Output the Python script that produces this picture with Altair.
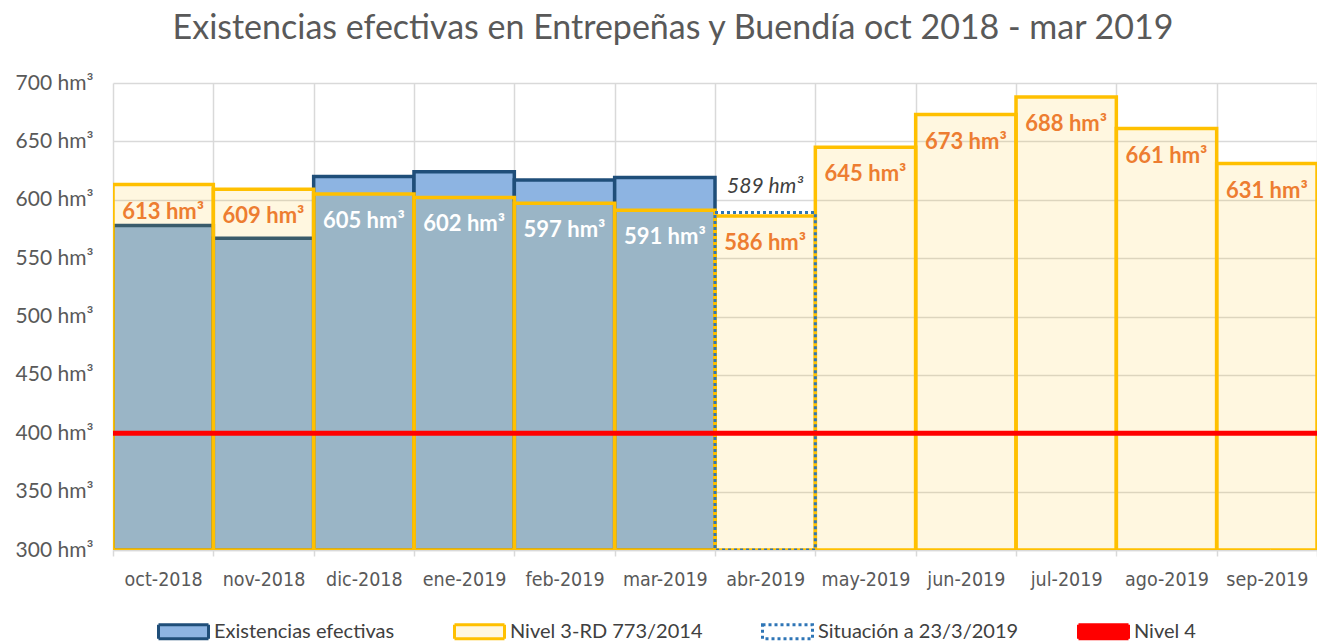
import altair as alt
import pandas as pd

# ---- data ----
meses = ["oct-2018", "nov-2018", "dic-2018", "ene-2019", "feb-2019", "mar-2019",
         "abr-2019", "may-2019", "jun-2019", "jul-2019", "ago-2019", "sep-2019"]
existencias_meses = ["oct-2018", "nov-2018", "dic-2018", "ene-2019", "feb-2019", "mar-2019"]
existencias = [578, 567, 620, 624, 617, 619]
nivel3 = [613, 609, 605, 602, 597, 591, 586, 645, 673, 688, 661, 631]
situacion_meses = ["abr-2019"]
situacion = [589]
nivel4 = [400]
y_ticks = [300, 350, 400, 450, 500, 550, 600, 650, 700]
series = ["Existencias efectivas", "Nivel 3-RD 773/2014", "Situación a 23/3/2019", "Nivel 4"]

exist_map = dict(zip(existencias_meses, existencias))
df_exist = pd.DataFrame({"mes": existencias_meses, "valor": existencias, "serie": series[0]})
df_n3 = pd.DataFrame({"mes": meses, "valor": nivel3, "serie": series[1]})
df_n3["dentro"] = [bool(exist_map.get(m, 0) > v) for m, v in zip(meses, nivel3)]
df_sit = pd.DataFrame({"mes": situacion_meses, "valor": situacion, "serie": series[2]})
df_n4 = pd.DataFrame({"valor": nivel4, "serie": series[3]})

fill_range = ["#8db4e2", "rgba(255,192,0,0.12)", "rgba(255,255,255,0)", "#ff0000"]
stroke_range = ["#1f4e79", "#ffc000", "#2e75b6", "#ff0000"]
dash_range = [[1, 0], [1, 0], [3, 3], [1, 0]]

FONT = "Lato"
NARROW = "'DejaVu Sans Condensed', 'Liberation Sans', sans-serif"

x_enc = alt.X(
    "mes:N",
    sort=meses,
    scale=alt.Scale(domain=meses, paddingInner=0, paddingOuter=0),
    axis=alt.Axis(title=None, labelAngle=0, tickBand="extent", grid=True,
                  gridColor="#d9d9d9", gridWidth=1.5, domainColor="#d9d9d9",
                  domainWidth=1.5, tickColor="#d9d9d9", tickWidth=1.5, tickSize=6,
                  labelFont=NARROW, labelFontSize=19.5, labelColor="#595959",
                  labelPadding=14),
)
y_enc = alt.Y(
    "valor:Q",
    scale=alt.Scale(domain=[300, 700], nice=False, zero=False),
    axis=alt.Axis(title=None, values=y_ticks, labelExpr="datum.value + ' hm³'",
                  grid=True, gridColor="#d9d9d9", gridWidth=1.5, domain=False,
                  ticks=False, labelFont=FONT, labelFontSize=21, labelColor="#595959",
                  labelPadding=20),
)

leg = alt.Legend(title=None)
fill_enc = alt.Fill("serie:N", scale=alt.Scale(domain=series, range=fill_range), legend=leg)
stroke_enc = alt.Stroke("serie:N", scale=alt.Scale(domain=series, range=stroke_range), legend=leg)
dash_enc = alt.StrokeDash("serie:N", scale=alt.Scale(domain=series, range=dash_range), legend=leg)

base300 = alt.datum(300)

bars_exist = alt.Chart(df_exist).mark_bar(strokeWidth=3.5, clip=True).encode(
    x=x_enc, y=y_enc, y2=base300, fill=fill_enc, stroke=stroke_enc, strokeDash=dash_enc
)
bars_n3 = alt.Chart(df_n3).mark_bar(strokeWidth=3.5, clip=True).encode(
    x=x_enc, y=y_enc, y2=base300, fill=fill_enc, stroke=stroke_enc, strokeDash=dash_enc
)
bars_sit = alt.Chart(df_sit).mark_bar(strokeWidth=3, clip=True).encode(
    x=x_enc, y=y_enc, y2=base300, fill=fill_enc, stroke=stroke_enc, strokeDash=dash_enc
)
rule_n4 = alt.Chart(df_n4).mark_rule(strokeWidth=5).encode(
    y=y_enc, stroke=stroke_enc
)
text_n3 = alt.Chart(df_n3).transform_calculate(
    etiqueta="datum.valor + ' hm³'"
).mark_text(font=FONT, fontSize=22, fontWeight="bold", baseline="middle", dy=27).encode(
    x=x_enc, y=y_enc, text="etiqueta:N",
    color=alt.condition("datum.dentro", alt.value("#ffffff"), alt.value("#ed7d31")),
)
text_sit = alt.Chart(df_sit).transform_calculate(
    etiqueta="datum.valor + ' hm³'"
).mark_text(font=FONT, fontSize=21, fontStyle="italic", baseline="middle", dy=-26,
            color="#404040").encode(
    x=x_enc, y=y_enc, text="etiqueta:N"
)

chart = alt.layer(bars_exist, bars_n3, bars_sit, rule_n4, text_n3, text_sit).properties(
    width=1204,
    height=467,
    title=alt.TitleParams(
        "Existencias efectivas en Entrepeñas y Buendía oct 2018 - mar 2019",
        font=FONT, fontSize=34, fontWeight="normal", color="#595959",
        anchor="middle", dx=-42, offset=26,
    ),
    padding={"left": 113, "top": 83, "right": 0, "bottom": 93},
    autosize=alt.AutoSizeParams(type="none"),
).configure_view(stroke=None).configure_legend(
    orient="none", legendX=44, legendY=522, direction="horizontal",
    symbolType="M-1,-0.28H1V0.28H-1Z", symbolSize=2500, symbolStrokeWidth=3,
    labelFont=FONT, labelFontSize=20, labelColor="#404040", labelOffset=4,
    columnPadding=53, padding=0, labelLimit=400,
)

chart.save("out.html", embed_options={"renderer": "svg", "actions": False})
